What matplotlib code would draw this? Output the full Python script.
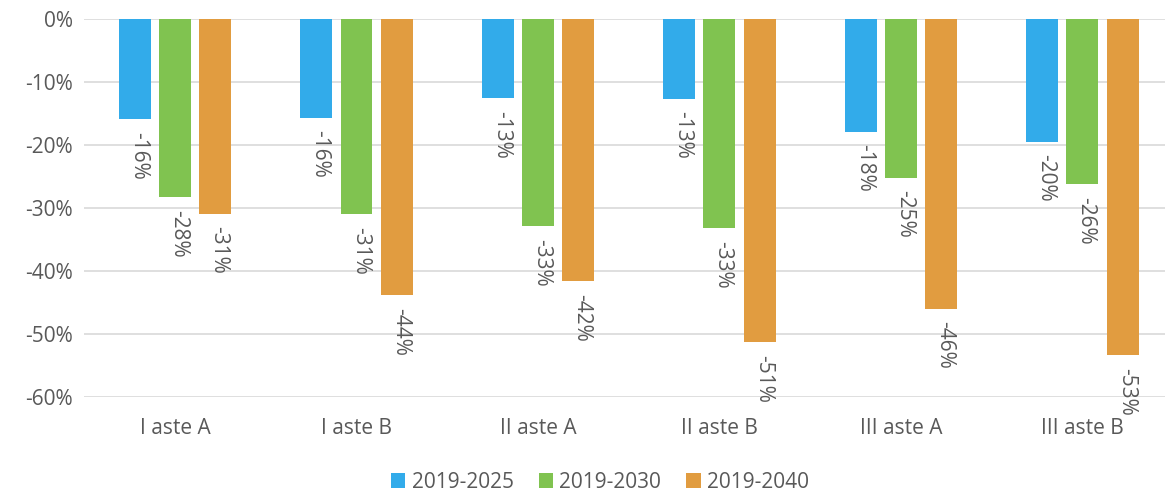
import matplotlib
matplotlib.use("Agg")
import matplotlib.pyplot as plt
import numpy as np

plt.rcParams['font.family'] = ['Open Sans', 'DejaVu Sans']

categories = ['I aste A', 'I aste B', 'II aste A', 'II aste B', 'III aste A', 'III aste B']
series = ['2019-2025', '2019-2030', '2019-2040']
v2025 = [-15.9, -15.7, -12.6, -12.7, -17.9, -19.5]
v2030 = [-28.3, -31.0, -32.9, -33.2, -25.2, -26.2]
v2040 = [-30.9, -43.8, -41.6, -51.3, -46.0, -53.3]
colors = ['#32ABEA', '#80C350', '#E19C40']

text_col = '#595959'

fig = plt.figure(figsize=(11.65, 4.94), dpi=100)
ax = fig.add_axes([0.0724, 0.196, 0.9345, 0.766])

x = np.arange(len(categories))
w = 0.176
off = 0.222
for i, (vals, col, name) in enumerate(zip([v2025, v2030, v2040], colors, series)):
    xs = x + (i - 1) * off
    ax.bar(xs, vals, width=w, color=col, label=name, zorder=3)
    for xi, v in zip(xs, vals):
        ax.text(xi + 0.02, v - 2.0, f'{round(v):d}%', rotation=-90, ha='center', va='top',
                fontsize=15, color=text_col, clip_on=False, zorder=4)

ax.set_ylim(-60, 0)
ax.set_xlim(-0.5, len(categories) - 0.5)
ax.set_yticks(np.arange(-60, 1, 10))
ax.set_yticklabels([f'{t}%' for t in range(-60, 1, 10)])
ax.set_xticks(x)
ax.set_xticklabels(categories)
ax.tick_params(axis='both', length=0, labelsize=15, colors=text_col)
ax.tick_params(axis='x', pad=15)
ax.tick_params(axis='y', pad=8)
ax.grid(axis='y', color='#D9D9D9', linewidth=1.2, zorder=0)
for s in ax.spines.values():
    s.set_visible(False)

fig.legend(loc='center', bbox_to_anchor=(0.515, 0.024), ncol=3, frameon=False,
           fontsize=15, labelcolor=text_col, handlelength=0.7, handleheight=0.7,
           columnspacing=1.2, handletextpad=0.3)

fig.savefig('out.png', dpi=100)
